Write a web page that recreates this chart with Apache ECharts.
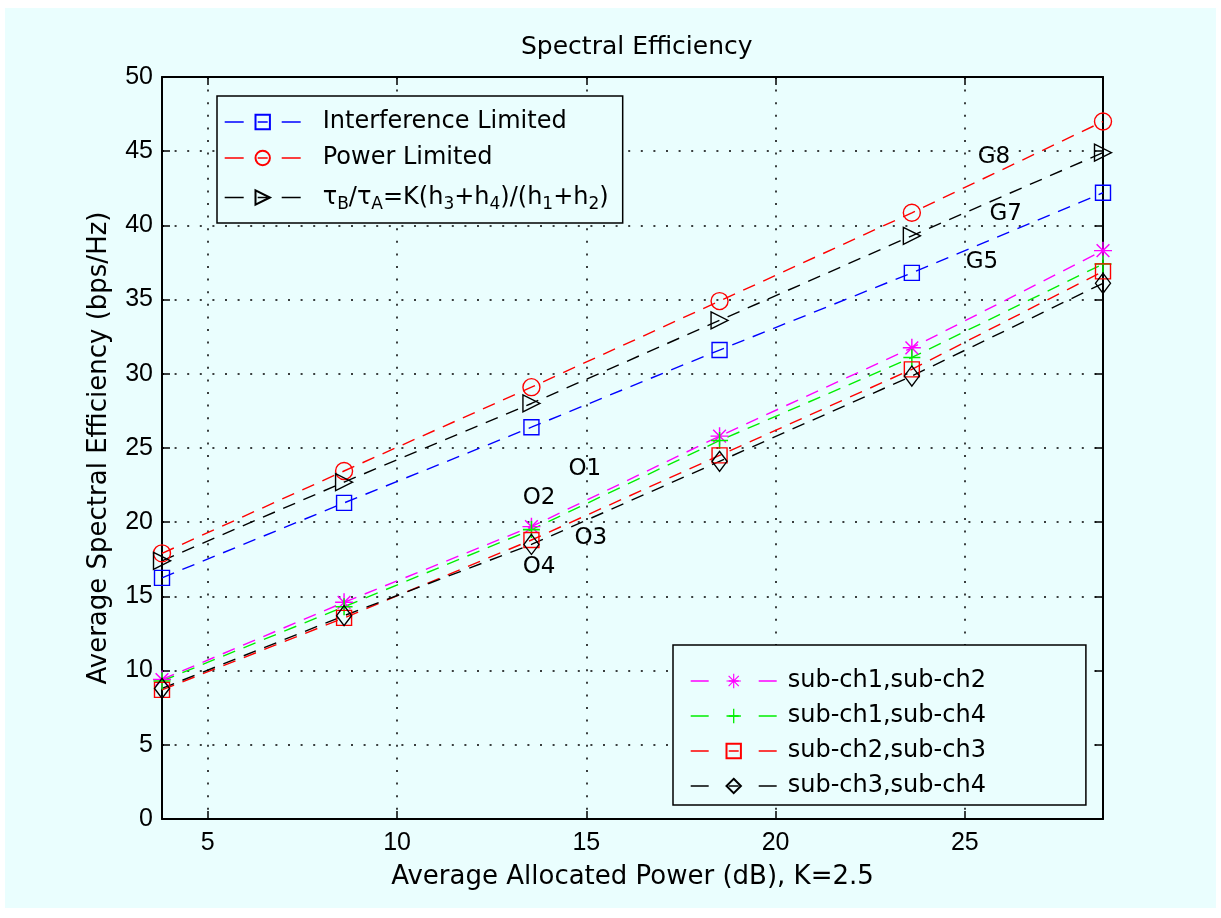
<!DOCTYPE html>
<html>
<head>
<meta charset="utf-8">
<script src="https://cdn.jsdelivr.net/npm/echarts@6/dist/echarts.min.js"></script>
<style>
  html, body { margin: 0; padding: 0; background: #ffffff; }
  #bg { position: absolute; left: 5px; top: 8px; width: 1211px; height: 900px; background: #eafefe; }
  #chart { position: absolute; left: 0; top: 0; width: 1221px; height: 918px; }
</style>
</head>
<body>
<div id="bg"></div>
<div id="chart"></div>
<script>
// ---- data ----
const xValues = [3.79, 8.6, 13.55, 18.52, 23.6, 28.65];
const interferenceLimited = [16.25, 21.3, 26.4, 31.6, 36.8, 42.2];
const powerLimited = [17.9, 23.45, 29.1, 34.9, 40.85, 47.0];
const tauRatio = [17.4, 22.7, 28.0, 33.6, 39.3, 44.9];
const subCh12 = [9.4, 14.6, 19.7, 25.8, 31.75, 38.3];
const subCh14 = [9.3, 14.3, 19.5, 25.5, 31.1, 37.4];
const subCh23 = [8.7, 13.55, 18.8, 24.5, 30.3, 36.9];
const subCh34 = [8.8, 13.7, 18.5, 24.1, 29.85, 36.1];

const xTicks = [5, 10, 15, 20, 25];
const yTicks = [0, 5, 10, 15, 20, 25, 30, 35, 40, 45, 50];

const annotNames = ['G8', 'G7', 'G5', 'O1', 'O2', 'O3', 'O4'];
const annotX = [25.77, 26.08, 25.45, 14.96, 13.75, 15.12, 13.75];
const annotY = [44.64, 40.76, 37.52, 23.55, 21.66, 18.96, 17.0];

const seriesNames = [
  'Interference Limited',
  'Power Limited',
  'τB/τA=K(h3+h4)/(h1+h2)',
  'sub-ch1,sub-ch2',
  'sub-ch1,sub-ch4',
  'sub-ch2,sub-ch3',
  'sub-ch3,sub-ch4'
];

// ---- styles ----
const FONT = 'DejaVu Sans';
const TICKFONT = 'Liberation Sans';
const asteriskPath = 'path://M-10,-0.8L10,-0.8L10,0.8L-10,0.8Z M-0.8,-10L0.8,-10L0.8,10L-0.8,10Z M-6.5,-7.64L7.64,6.5L6.5,7.64L-7.64,-6.5Z M6.5,-7.64L7.64,-6.5L-6.5,7.64L-7.64,6.5Z';
const plusPath = 'path://M-10,-0.9L10,-0.9L10,0.9L-10,0.9Z M-0.9,-10L0.9,-10L0.9,10L-0.9,10Z';

function pts(ys) { return xValues.map((x, i) => [x, ys[i]]); }

function mkSeries(name, ys, color, symbol, size, rotate, filled) {
  return {
    type: 'line',
    name: name,
    data: pts(ys),
    clip: false,
    symbol: symbol,
    symbolSize: size,
    symbolRotate: rotate || 0,
    showAllSymbol: true,
    lineStyle: { color: color, width: 1.4, type: [13, 9] },
    itemStyle: filled
      ? { color: color, borderColor: color, borderWidth: 0 }
      : { color: 'rgba(0,0,0,0)', borderColor: color, borderWidth: 1.4 },
    emphasis: { disabled: true },
    animation: false,
    z: 3
  };
}

const series = [
  mkSeries(seriesNames[0], interferenceLimited, '#0000ff', 'rect', 15),
  mkSeries(seriesNames[1], powerLimited, '#ff0000', 'circle', 17),
  mkSeries(seriesNames[2], tauRatio, '#000000', 'triangle', 17, -90),
  mkSeries(seriesNames[3], subCh12, '#ff00ff', asteriskPath, 18, 0, true),
  mkSeries(seriesNames[4], subCh14, '#00ee00', plusPath, 17, 0, true),
  mkSeries(seriesNames[5], subCh23, '#ff0000', 'rect', 15),
  mkSeries(seriesNames[6], subCh34, '#000000', 'diamond', [15, 20])
];

series.push({
  type: 'scatter',
  name: 'annotations',
  data: annotNames.map((n, i) => ({ name: n, value: [annotX[i], annotY[i]] })),
  symbolSize: 1,
  itemStyle: { color: 'rgba(0,0,0,0)', opacity: 1 },
  label: {
    show: true, position: 'inside', formatter: '{b}',
    color: '#000', fontFamily: FONT, fontSize: 23,
    textBorderWidth: 0, textBorderColor: 'transparent', opacity: 1
  },
  emphasis: { disabled: true },
  silent: true,
  animation: false,
  z: 5
});

const legendCommon = {
  orient: 'vertical',
  itemHeight: 18,
  itemGap: 11,
  backgroundColor: '#eafefe',
  borderColor: '#000',
  borderWidth: 1.5,
  borderRadius: 0,
  selectedMode: false,
  lineStyle: { width: 1.4 },
  textStyle: { color: '#000', fontFamily: FONT, fontSize: 24, lineHeight: 24 }
};

// legend icon dash layout: dash, gap, dash through marker, gap, dash
const dashIcon1 = [19, 14, 10, 14, 19, 100];
const dashIcon2 = [18, 20, 10, 20, 18, 100];

const option = {
  animation: false,
  backgroundColor: 'transparent',
  title: {
    text: 'Spectral Efficiency',
    left: 516,
    top: 30,
    textStyle: { color: '#000', fontFamily: FONT, fontSize: 25, fontWeight: 'normal' }
  },
  grid: { left: 162, right: 118, top: 77, bottom: 99, show: false },
  xAxis: [
    {
      type: 'value', min: 3.79, max: 28.65, position: 'bottom',
      name: 'Average Allocated Power (dB), K=2.5',
      nameLocation: 'middle', nameGap: 45,
      nameTextStyle: { color: '#000', fontFamily: FONT, fontSize: 26 },
      axisLine: { show: true, lineStyle: { color: '#000', width: 2 } },
      axisTick: { show: true, inside: true, length: 8, customValues: xTicks, lineStyle: { color: '#000', width: 1.5 } },
      axisLabel: { show: true, customValues: xTicks, margin: 12, color: '#000', fontFamily: TICKFONT, fontSize: 25 },
      splitLine: { show: true, lineStyle: { color: '#000', width: 1.5, type: [2, 10.6] } }
    },
    {
      type: 'value', min: 3.79, max: 28.65, position: 'top',
      axisLine: { show: true, onZero: false, lineStyle: { color: '#000', width: 2 } },
      axisTick: { show: true, inside: true, length: 8, customValues: xTicks, lineStyle: { color: '#000', width: 1.5 } },
      axisLabel: { show: false },
      splitLine: { show: false }
    }
  ],
  yAxis: [
    {
      type: 'value', min: 0, max: 50, interval: 5, position: 'left',
      name: 'Average Spectral Efficiency (bps/Hz)',
      nameLocation: 'middle', nameGap: 50, nameRotate: 90,
      nameTextStyle: { color: '#000', fontFamily: FONT, fontSize: 26 },
      axisLine: { show: true, lineStyle: { color: '#000', width: 2 } },
      axisTick: { show: true, inside: true, length: 8, lineStyle: { color: '#000', width: 1.5 } },
      axisLabel: { show: true, margin: 9, color: '#000', fontFamily: TICKFONT, fontSize: 25,
        formatter: v => (yTicks.indexOf(v) >= 0 ? String(v) : '') },
      splitLine: { show: true, lineStyle: { color: '#000', width: 1.5, type: [2, 10.6] } }
    },
    {
      type: 'value', min: 0, max: 50, interval: 5, position: 'right',
      axisLine: { show: true, onZero: false, lineStyle: { color: '#000', width: 2 } },
      axisTick: { show: true, inside: true, length: 8, lineStyle: { color: '#000', width: 1.5 } },
      axisLabel: { show: false },
      splitLine: { show: false }
    }
  ],
  legend: [
    Object.assign({}, legendCommon, {
      left: 217, top: 96,
      itemWidth: 76,
      padding: [14, 14, 10, 7],
      itemGap: 12,
      data: seriesNames.slice(0, 3).map(n => ({ name: n, lineStyle: { type: dashIcon1 } })),
      formatter: function (name) {
        if (name === seriesNames[2]) {
          return 'τ{s|B}/τ{s|A}=K(h{s|3}+h{s|4})/(h{s|1}+h{s|2})';
        }
        return name;
      },
      textStyle: {
        color: '#000', fontFamily: FONT, fontSize: 24, lineHeight: 24,
        padding: [0, 0, 0, 17],
        rich: {
          s: { fontFamily: FONT, fontSize: 17, color: '#000', padding: [14, 0, 0, 0], lineHeight: 24 }
        }
      }
    }),
    Object.assign({}, legendCommon, {
      left: 673, top: 645,
      itemWidth: 86,
      padding: [24, 100, 7, 17],
      textStyle: { color: '#000', fontFamily: FONT, fontSize: 24, lineHeight: 24, padding: [0, 0, 0, 6] },
      data: seriesNames.slice(3).map(n => ({ name: n, lineStyle: { type: dashIcon2 } }))
    })
  ],
  series: series
};

const chart = echarts.init(document.getElementById('chart'), null, { renderer: 'canvas' });
chart.setOption(option);
</script>
</body>
</html>
